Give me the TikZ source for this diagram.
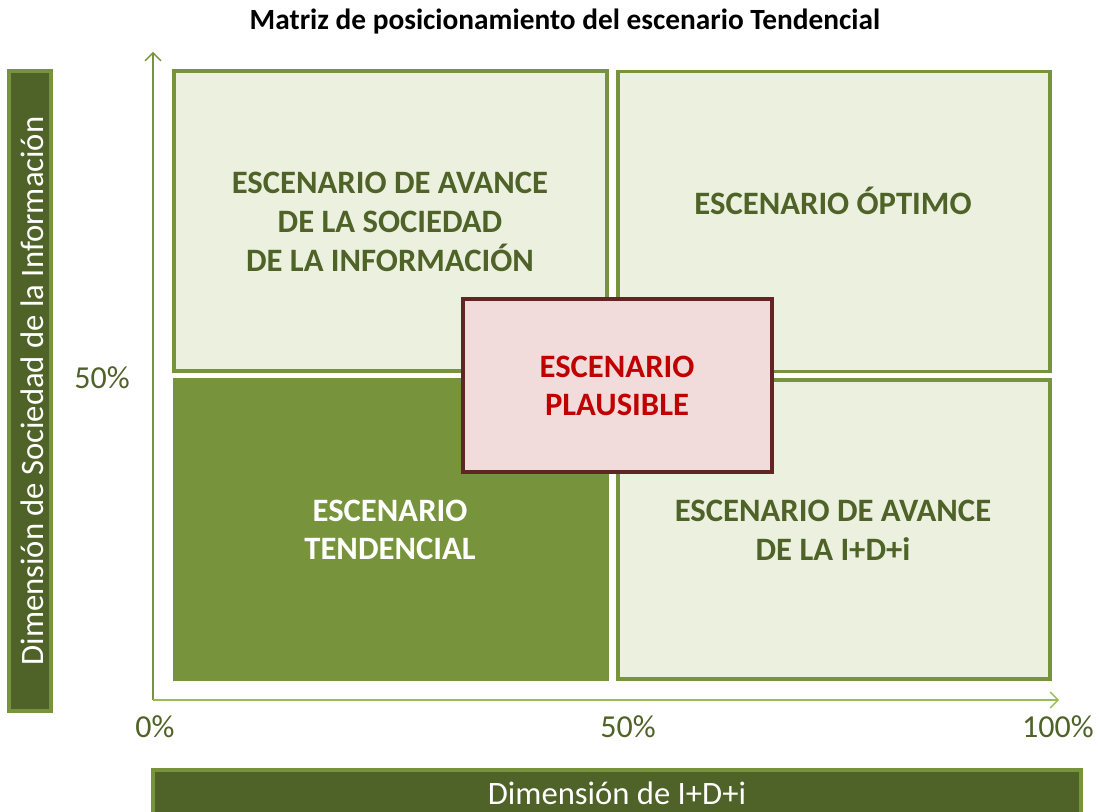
\documentclass[tikz,border=0pt]{standalone}
\usepackage{fontspec}
\setmainfont{Carlito}
\usetikzlibrary{arrows.meta}
\definecolor{darkolive}{HTML}{4F6228}
\definecolor{olive}{HTML}{77933C}
\definecolor{lightolive}{HTML}{EBF1DE}
\definecolor{axisgreen}{HTML}{9BBB59}
\definecolor{plfill}{HTML}{F2DCDB}
\definecolor{plborder}{HTML}{632523}
\definecolor{pltext}{HTML}{C00000}
\tikzset{
  lightbox/.style={draw=olive,line width=2.4pt,fill=lightolive,rectangle,inner sep=0pt},
  darkbox/.style={fill=olive,rectangle,inner sep=0pt},
  plbox/.style={draw=plborder,line width=2.4pt,fill=plfill,rectangle,inner sep=0pt},
  boxtext/.style={font=\fontsize{24.5pt}{29pt}\selectfont\bfseries,text=darkolive,align=center,inner sep=0pt},
  bartext/.style={font=\fontsize{24.5pt}{28pt}\selectfont,text=white,inner sep=0pt},
  barbox/.style={draw=olive,line width=2.4pt,fill=darkolive,rectangle,inner sep=0pt},
  pct/.style={font=\fontsize{24pt}{28pt}\selectfont,text=darkolive,inner sep=0pt},
  axisline/.style={draw=axisgreen,line width=1pt,-{Straight Barb[length=6pt,width=12pt,line width=1pt]}}
}
\begin{document}
\begin{tikzpicture}[x=0.75pt,y=-0.75pt]
\useasboundingbox (0,0) rectangle (1099,812);
% title
\node[font=\fontsize{22pt}{26pt}\selectfont\bfseries,inner sep=0pt] (title) at (565,22) {Matriz de posicionamiento del escenario Tendencial};
% axes
\coordinate (orig) at (153,700);
\coordinate (ytop) at (153,52);
\coordinate (xend) at (1059,700);
\draw[axisline,draw=olive] (orig) -- (ytop);
\draw[axisline] (orig) -- (xend);
% quadrant boxes
\node[lightbox,minimum width=433*0.75pt,minimum height=300*0.75pt] (tl) at (390.5,221) {};
\node[lightbox,minimum width=432*0.75pt,minimum height=300*0.75pt] (tr) at (834,221.5) {};
\node[darkbox,minimum width=436*0.75pt,minimum height=302*0.75pt] (bl) at (391,529.5) {};
\node[lightbox,minimum width=432*0.75pt,minimum height=299*0.75pt] (br) at (834,529.5) {};
% texts
\node[boxtext] (tltext) at (390,222) {ESCENARIO DE AVANCE\\DE LA SOCIEDAD\\DE LA INFORMACIÓN};
\node[boxtext] (trtext) at (833,201) {ESCENARIO ÓPTIMO};
\node[boxtext,text=white] (bltext) at (390,530) {ESCENARIO\\TENDENCIAL};
\node[boxtext] (brtext) at (833,530) {ESCENARIO DE AVANCE\\DE LA I+D+i};
% plausible
\node[plbox,minimum width=309*0.75pt,minimum height=173*0.75pt] (pl) at (617.5,385.5) {};
\node[boxtext,text=pltext] (pltxt) at (617,386) {ESCENARIO\\PLAUSIBLE};
% percentages
\node[pct] (p0) at (155,727) {0\%};
\node[pct] (p50) at (628,727) {50\%};
\node[pct] (p100) at (1058,727) {100\%};
\node[pct] (py50) at (102,378) {50\%};
% axis bars
\node[barbox,minimum width=928*0.75pt,minimum height=50*0.75pt] (xbar) at (617,795) {};
\node[bartext] (xbartext) at (617,793) {Dimensión de I+D+i};
\node[barbox,minimum width=42*0.75pt,minimum height=640*0.75pt] (ybar) at (30,391) {};
\node[bartext,rotate=90] (ybartext) at (32,391) {Dimensión de Sociedad de la Información};
\end{tikzpicture}
\end{document}
